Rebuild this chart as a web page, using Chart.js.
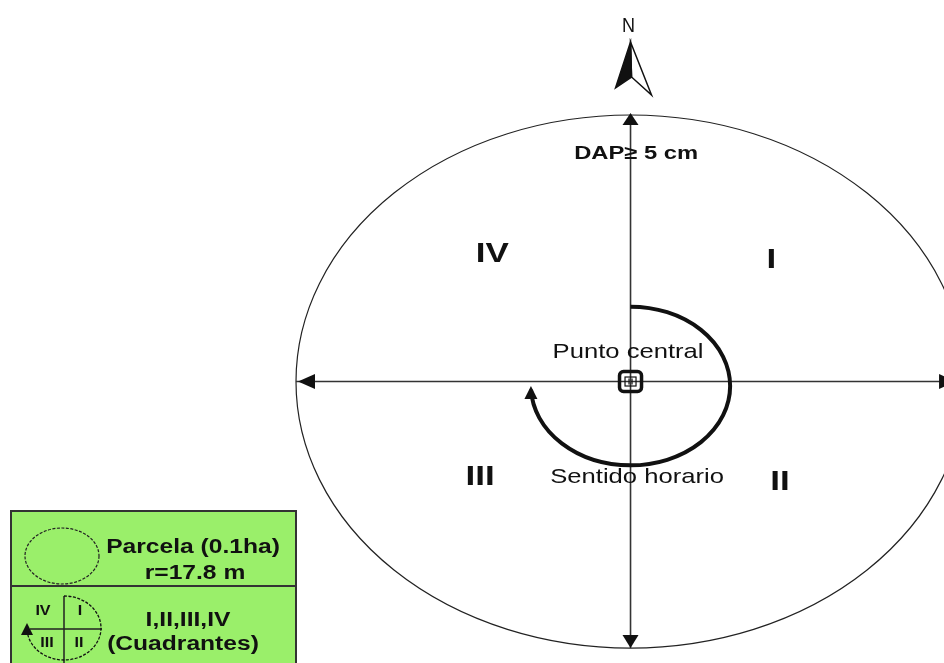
<!DOCTYPE html>
<html>
<head>
<meta charset="utf-8">
<script src="https://cdn.jsdelivr.net/npm/chart.js@4.4.1/dist/chart.umd.min.js"></script>
<style>
  html, body { margin: 0; padding: 0; background: #fff; }
  #wrap { width: 944px; height: 663px; }
</style>
</head>
<body>
<div id="wrap"><canvas id="parcelaChart" width="944" height="663"></canvas></div>
<script>
// ---------- DATA ----------
// circular plot of 0.1 ha, radius 17.8 m
const plotRadius = 17.8;
const plotAreaHa = 0.1;
const dapMinCm = 5;
const quadrants = ["I", "II", "III", "IV"];
const centerText = "Punto central";
const turnText = "Sentido horario";

// ---------- LAYOUT ----------
const FONT = '"Liberation Sans", Arial, sans-serif';
const STRETCH = 1.25;           // the original drawing is stretched sideways
const spiralR = 5.3;            // metres
const quadrantSpots = {         // metres from centre
    I: [7.5, 8.1],
    II: [7.95, -6.7],
    III: [-8.0, -6.4],
    IV: [-7.35, 8.5]
};

function txt(ctx, text, x, y, size, bold, stretch) {
    ctx.save();
    ctx.translate(x, y);
    ctx.scale(stretch, 1);
    ctx.font = (bold ? "bold " : "") + size + "px " + FONT;
    ctx.textAlign = "center";
    ctx.textBaseline = "middle";
    ctx.fillStyle = "#111";
    ctx.fillText(text, 0, 0);
    ctx.restore();
}

function arrowHead(ctx, x, y, ang, len, wid) {
    ctx.save();
    ctx.translate(x, y);
    ctx.rotate(ang);
    ctx.beginPath();
    ctx.moveTo(0, 0);
    ctx.lineTo(-len, -wid / 2);
    ctx.lineTo(-len, wid / 2);
    ctx.closePath();
    ctx.fill();
    ctx.restore();
}

// clockwise arc with arrow at its end (used big and small)
function turnArrow(ctx, cx, cy, rx, ry, endAng, lw, head, lift, dash) {
    ctx.save();
    ctx.strokeStyle = "#111";
    ctx.fillStyle = "#111";
    ctx.lineWidth = lw;
    if (dash) ctx.setLineDash(dash);
    ctx.beginPath();
    ctx.ellipse(cx, cy, rx, ry, 0, -Math.PI / 2, endAng);
    ctx.stroke();
    ctx.setLineDash([]);
    arrowHead(ctx, cx - rx, cy - lift, -Math.PI / 2, head, head);
    ctx.restore();
}

// ---------- DRAWING PLUGIN ----------
const parcelaPlugin = {
    id: "parcela",
    beforeDatasetsDraw(chart) {
        const { ctx, scales: { x, y } } = chart;
        const cx = x.getPixelForValue(0);
        const cy = y.getPixelForValue(0);
        const rx = x.getPixelForValue(plotRadius) - cx;
        const ry = cy - y.getPixelForValue(plotRadius);

        ctx.save();
        ctx.strokeStyle = "#222";
        ctx.lineWidth = 1.2;
        ctx.beginPath();
        ctx.ellipse(cx, cy, rx, ry, 0, 0, Math.PI * 2);
        ctx.stroke();
        ctx.restore();
    },
    afterDatasetsDraw(chart) {
        const { ctx, scales: { x, y } } = chart;
        const X = v => x.getPixelForValue(v);
        const Y = v => y.getPixelForValue(v);
        const cx = X(0), cy = Y(0);

        // axis arrow heads
        ctx.save();
        ctx.fillStyle = "#111";
        arrowHead(ctx, cx, Y(plotRadius) - 2, -Math.PI / 2, 12, 16);
        arrowHead(ctx, cx, Y(-plotRadius), Math.PI / 2, 13, 16);
        arrowHead(ctx, X(-plotRadius) + 2, cy, Math.PI, 17, 15);
        arrowHead(ctx, X(plotRadius) - 9, cy, 0, 17, 15);
        ctx.restore();

        // clockwise spiral
        const sy = Y(-0.3);
        turnArrow(ctx, cx, sy, X(spiralR) - cx, Y(0) - Y(spiralR), Math.PI * 0.985, 4, 13, 0);

        // centre marker
        ctx.save();
        ctx.strokeStyle = "#111";
        ctx.lineWidth = 3.5;
        ctx.beginPath();
        ctx.roundRect(cx - 11, cy - 10, 22, 20, 4);
        ctx.stroke();
        ctx.lineWidth = 1.2;
        ctx.strokeRect(cx - 5.5, cy - 4.5, 11, 9);
        ctx.beginPath();
        ctx.moveTo(cx - 1.5, cy - 3); ctx.lineTo(cx - 1.5, cy + 3);
        ctx.moveTo(cx + 1.5, cy - 3); ctx.lineTo(cx + 1.5, cy + 3);
        ctx.stroke();
        ctx.restore();

        // texts
        txt(ctx, centerText, X(-0.13), Y(1.95), 21, false, 1.22);
        txt(ctx, turnText, X(0.35), Y(-6.4), 21, false, 1.22);
        txt(ctx, "DAP\u2265 " + dapMinCm + " cm", X(0.3), Y(15.2), 19, true, STRETCH);
        quadrants.forEach(q => {
            const p = quadrantSpots[q];
            txt(ctx, q, X(p[0]), Y(p[1]), 28, true, STRETCH);
        });

        // north arrow
        txt(ctx, "N", cx - 2, 26, 20, false, 0.9);
        ctx.save();
        ctx.fillStyle = "#111";
        ctx.strokeStyle = "#111";
        ctx.lineWidth = 1.5;
        ctx.beginPath();
        ctx.moveTo(cx, 42); ctx.lineTo(cx - 15, 88); ctx.lineTo(cx + 1, 77); ctx.closePath();
        ctx.fill(); ctx.stroke();
        ctx.beginPath();
        ctx.moveTo(cx, 42); ctx.lineTo(cx + 21, 95); ctx.lineTo(cx + 1, 77); ctx.closePath();
        ctx.stroke();
        ctx.restore();

        // legend box
        ctx.save();
        ctx.fillStyle = "#9aef6a";
        ctx.strokeStyle = "#333";
        ctx.lineWidth = 2;
        ctx.fillRect(11, 511, 285, 160);
        ctx.strokeRect(11, 511, 285, 160);
        ctx.beginPath();
        ctx.moveTo(11, 586); ctx.lineTo(296, 586);
        ctx.stroke();

        ctx.strokeStyle = "#222";
        ctx.lineWidth = 1.2;
        ctx.setLineDash([3, 1.5]);
        ctx.beginPath();
        ctx.ellipse(62, 556, 37, 28, 0, 0, Math.PI * 2);
        ctx.stroke();
        ctx.setLineDash([]);

        ctx.lineWidth = 1.5;
        ctx.beginPath();
        ctx.moveTo(64, 596); ctx.lineTo(64, 663);
        ctx.moveTo(30, 629); ctx.lineTo(102, 629);
        ctx.stroke();
        ctx.restore();

        turnArrow(ctx, 64, 628, 37, 32, Math.PI * 0.97, 1.3, 12, 5, [3, 1.5]);

        txt(ctx, quadrants[3], 43, 611, 14, true, 1.15);
        txt(ctx, quadrants[0], 80, 611, 14, true, 1.15);
        txt(ctx, quadrants[2], 47, 643, 14, true, 1.15);
        txt(ctx, quadrants[1], 79, 643, 14, true, 1.15);

        txt(ctx, "Parcela (" + plotAreaHa + "ha)", 193, 547, 20, true, 1.23);
        txt(ctx, "r=" + plotRadius + " m", 195, 573, 20, true, 1.23);
        txt(ctx, quadrants.join(","), 188, 620, 20, true, 1.23);
        txt(ctx, "(Cuadrantes)", 183, 644, 20, true, 1.23);
    }
};

// ---------- CHART ----------
const canvas = document.getElementById("parcelaChart");

new Chart(canvas, {
    type: "scatter",
    data: {
        datasets: [
            {
                // west - east axis
                type: "line",
                data: [{ x: -plotRadius, y: 0 }, { x: plotRadius, y: 0 }],
                borderColor: "#333",
                borderWidth: 1.6,
                pointRadius: 0
            },
            {
                // south - north axis
                type: "line",
                data: [{ x: 0, y: -plotRadius }, { x: 0, y: plotRadius }],
                borderColor: "#333",
                borderWidth: 1.6,
                pointRadius: 0
            }
        ]
    },
    plugins: [parcelaPlugin],
    options: {
        responsive: false,
        animation: false,
        layout: { padding: 0 },
        plugins: {
            legend: { display: false },
            tooltip: { enabled: false }
        },
        scales: {
            x: { type: "linear", display: false, min: -33.55, max: 16.68 },
            y: { type: "linear", display: false, min: -18.8, max: 25.48 }
        }
    }
});
</script>
</body>
</html>
